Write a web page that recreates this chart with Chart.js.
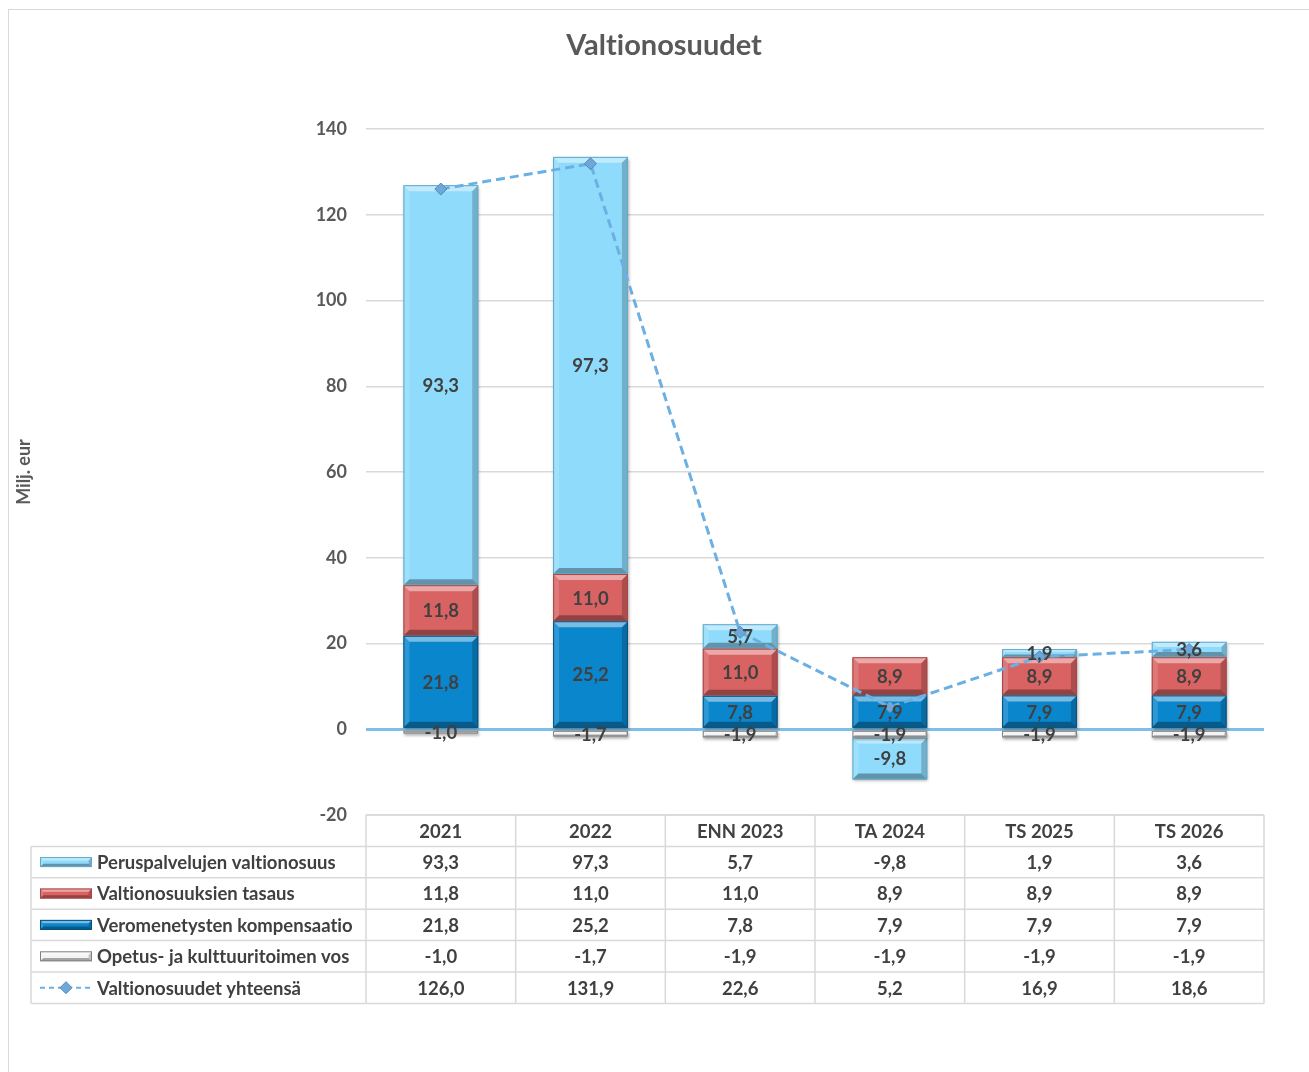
<!DOCTYPE html>
<html>
<head>
<meta charset="utf-8">
<script src="https://cdn.jsdelivr.net/npm/chart.js@4.4.1/dist/chart.umd.min.js"></script>
<style>
  html, body { margin: 0; padding: 0; background: #fff; overflow: hidden; }
  #frame { position: absolute; left: 8px; top: 9px; width: 1400px; height: 1200px; border: 1px solid #d9d9d9; }
  #wrap { position: absolute; left: 0; top: 0; width: 1309px; height: 1072px; }
</style>
</head>
<body>
<div id="frame"></div>
<div id="wrap"><canvas id="chart"></canvas></div>
<script>
// data
const categories = ['2021', '2022', 'ENN 2023', 'TA 2024', 'TS 2025', 'TS 2026'];
const peruspalvelut = [93.3, 97.3, 5.7, -9.8, 1.9, 3.6];
const tasaus = [11.8, 11.0, 11.0, 8.9, 8.9, 8.9];
const kompensaatio = [21.8, 25.2, 7.8, 7.9, 7.9, 7.9];
const opetus = [-1.0, -1.7, -1.9, -1.9, -1.9, -1.9];
const yhteensa = [126.0, 131.9, 22.6, 5.2, 16.9, 18.6];
const yTicks = [-20, 0, 20, 40, 60, 80, 100, 120, 140];
const chartTitle = 'Valtionosuudet';

const FONT = 'Lato, "Open Sans", sans-serif';
const TEXT = '#404040';
const LABEL_SIZE = 18.5;
const fmt = v => v.toFixed(1).replace('.', ',');

const styles = {
  perus: { fill: '#8fdbfb', edge: '#5fa9cc' },
  tasaus: { fill: '#d96262', edge: '#a94444' },
  komp: { fill: '#0a86cd', edge: '#06507e' },
  opetus: { fill: '#f4f4f4', edge: '#808080' },
  line: '#6cb0e3'
};

function poly(ctx, pts) {
  ctx.beginPath();
  ctx.moveTo(pts[0][0], pts[0][1]);
  for (let i = 1; i < pts.length; i++) ctx.lineTo(pts[i][0], pts[i][1]);
  ctx.closePath();
  ctx.fill();
}

// bevel shading on top of a plain rectangle
function bevel(ctx, l, t, r, b, edge) {
  const e = Math.min(6, (b - t) / 3, (r - l) / 3);
  ctx.save();
  ctx.fillStyle = 'rgba(255,255,255,0.45)';
  poly(ctx, [[l, t], [r, t], [r - e, t + e], [l + e, t + e]]);
  ctx.fillStyle = 'rgba(255,255,255,0.15)';
  poly(ctx, [[l, t], [l + e, t + e], [l + e, b - e], [l, b]]);
  ctx.fillStyle = 'rgba(0,0,0,0.2)';
  poly(ctx, [[r, t], [r, b], [r - e, b - e], [r - e, t + e]]);
  ctx.fillStyle = 'rgba(0,0,0,0.32)';
  poly(ctx, [[l, b], [r, b], [r - e, b - e], [l + e, b - e]]);
  ctx.strokeStyle = edge;
  ctx.lineWidth = 1;
  ctx.strokeRect(l + 0.5, t + 0.5, r - l - 1, b - t - 1);
  ctx.restore();
}

// no "ti"/"tt" ligatures, like the original
function plainText(ctx) {
  if ('textRendering' in ctx) ctx.textRendering = 'optimizeSpeed';
}

const titleText = {
  id: 'titleText',
  afterDraw(chart) {
    const ctx = chart.ctx;
    ctx.save();
    plainText(ctx);
    ctx.font = 'bold 29px ' + FONT;
    ctx.fillStyle = '#595959';
    ctx.textAlign = 'center';
    ctx.textBaseline = 'middle';
    ctx.fillText(chartTitle, 664, 46);
    ctx.restore();
  }
};

const barLook = {
  id: 'barLook',
  beforeDatasetDraw(chart, args) {
    if (args.meta.type !== 'bar') return;
    const ctx = chart.ctx;
    ctx.save();
    ctx.shadowColor = 'rgba(0,0,0,0.35)';
    ctx.shadowBlur = 3;
    ctx.shadowOffsetX = 1;
    ctx.shadowOffsetY = 2;
  },
  afterDatasetDraw(chart, args) {
    if (args.meta.type !== 'bar') return;
    const ctx = chart.ctx;
    ctx.restore();
    const edge = chart.data.datasets[args.index].borderColor;
    args.meta.data.forEach(bar => {
      const p = bar.getProps(['x', 'y', 'base', 'width'], true);
      bevel(ctx, p.x - p.width / 2, Math.min(p.y, p.base), p.x + p.width / 2, Math.max(p.y, p.base), edge);
    });
  },
  afterDatasetsDraw(chart) {
    const ctx = chart.ctx;
    ctx.save();
    ctx.font = 'bold ' + LABEL_SIZE + 'px ' + FONT;
    ctx.fillStyle = TEXT;
    ctx.textAlign = 'center';
    ctx.textBaseline = 'middle';
    chart.data.datasets.forEach((ds, i) => {
      if (ds.type === 'line') return;
      chart.getDatasetMeta(i).data.forEach((bar, j) => {
        const p = bar.getProps(['x', 'y', 'base'], true);
        ctx.fillText(fmt(ds.data[j]), p.x, (p.y + p.base) / 2 + 1);
      });
    });
    ctx.restore();
  }
};

const dataTable = {
  id: 'dataTable',
  afterDraw(chart) {
    const { ctx, chartArea } = chart;
    const xs = chart.scales.x;
    const step = (chartArea.right - chartArea.left) / categories.length;
    const top = chartArea.bottom;
    const rowH = 31.4;
    const labelLeft = 31;
    const rows = [
      { name: 'Peruspalvelujen valtionosuus', values: peruspalvelut, st: styles.perus },
      { name: 'Valtionosuuksien tasaus', values: tasaus, st: styles.tasaus },
      { name: 'Veromenetysten kompensaatio', values: kompensaatio, st: styles.komp },
      { name: 'Opetus- ja kulttuuritoimen vos', values: opetus, st: styles.opetus },
      { name: 'Valtionosuudet yhteensä', values: yhteensa, line: true }
    ];
    const bottom = top + rowH * (rows.length + 1);

    ctx.save();
    plainText(ctx);
    ctx.strokeStyle = '#d9d9d9';
    ctx.lineWidth = 1.5;
    ctx.beginPath();
    ctx.moveTo(chartArea.left, top);
    ctx.lineTo(chartArea.right, top);
    for (let i = 1; i <= rows.length + 1; i++) {
      ctx.moveTo(labelLeft, top + rowH * i);
      ctx.lineTo(chartArea.right, top + rowH * i);
    }
    ctx.moveTo(labelLeft, top + rowH);
    ctx.lineTo(labelLeft, bottom);
    for (let k = 0; k <= categories.length; k++) {
      const x = chartArea.left + step * k;
      ctx.moveTo(x, top);
      ctx.lineTo(x, bottom);
    }
    ctx.stroke();

    ctx.font = 'bold ' + LABEL_SIZE + 'px ' + FONT;
    ctx.fillStyle = TEXT;
    ctx.textAlign = 'center';
    ctx.textBaseline = 'middle';
    categories.forEach((c, j) => ctx.fillText(c, xs.getPixelForValue(j), top + rowH / 2 + 1));

    rows.forEach((row, i) => {
      const cy = top + rowH * (i + 1) + rowH / 2;
      row.values.forEach((v, j) => {
        ctx.fillStyle = TEXT;
        ctx.textAlign = 'center';
        ctx.fillText(fmt(v), xs.getPixelForValue(j), cy + 1);
      });
      if (row.line) {
        ctx.save();
        ctx.strokeStyle = styles.line;
        ctx.lineWidth = 2;
        ctx.setLineDash([5, 4]);
        ctx.beginPath();
        ctx.moveTo(40, cy);
        ctx.lineTo(92, cy);
        ctx.stroke();
        ctx.setLineDash([]);
        ctx.fillStyle = '#6fa8d8';
        ctx.strokeStyle = '#4f88bb';
        ctx.lineWidth = 1;
        ctx.beginPath();
        ctx.moveTo(66, cy - 6);
        ctx.lineTo(72, cy);
        ctx.lineTo(66, cy + 6);
        ctx.lineTo(60, cy);
        ctx.closePath();
        ctx.fill();
        ctx.stroke();
        ctx.restore();
      } else {
        ctx.fillStyle = row.st.fill;
        ctx.fillRect(40, cy - 5, 52, 10);
        bevel(ctx, 40, cy - 5, 92, cy + 5, row.st.edge);
      }
      ctx.fillStyle = TEXT;
      ctx.textAlign = 'left';
      ctx.fillText(row.name, 97, cy + 1);
    });
    ctx.restore();
  }
};

function barSet(label, data, st) {
  return {
    type: 'bar', label, data,
    backgroundColor: st.fill, borderColor: st.edge, borderWidth: 0,
    barPercentage: 0.5, categoryPercentage: 1, order: 1
  };
}

new Chart(document.getElementById('chart').getContext('2d'), {
  data: {
    labels: categories,
    datasets: [
      barSet('Veromenetysten kompensaatio', kompensaatio, styles.komp),
      barSet('Valtionosuuksien tasaus', tasaus, styles.tasaus),
      barSet('Opetus- ja kulttuuritoimen vos', opetus, styles.opetus),
      barSet('Peruspalvelujen valtionosuus', peruspalvelut, styles.perus),
      {
        type: 'line', label: 'Valtionosuudet yhteensä', data: yhteensa, stack: 'total', order: 0,
        borderColor: styles.line, borderWidth: 3, borderDash: [9, 5], fill: false, tension: 0,
        pointStyle: 'rectRot', pointRadius: 6, pointBackgroundColor: '#6fa8d8', pointBorderColor: '#4f88bb',
        pointBorderWidth: 1
      }
    ]
  },
  options: {
    responsive: true,
    maintainAspectRatio: false,
    animation: false,
    layout: { padding: { left: 0, right: 45, top: 129, bottom: 257 } },
    plugins: {
      legend: { display: false },
      tooltip: { enabled: false },
      title: { display: false }
    },
    scales: {
      x: { display: false, stacked: true },
      y: {
        stacked: true, min: -20, max: 140,
        afterFit: s => { s.width = 366; },
        afterBuildTicks: s => { s.ticks = yTicks.map(v => ({ value: v })); },
        border: { display: false },
        grid: {
          drawTicks: false,
          color: c => c.tick.value === 0 ? '#7ebfea' : '#d9d9d9',
          lineWidth: c => c.tick.value === 0 ? 3 : 1.5
        },
        ticks: { padding: 19, color: '#595959', font: { family: FONT, size: 18, weight: 'bold' } },
        title: {
          display: true, text: 'Milj. eur', color: '#595959',
          font: { family: FONT, size: 18, weight: 'bold' },
          padding: { top: 13, bottom: 0 }
        }
      }
    }
  },
  plugins: [barLook, dataTable, titleText]
});
</script>
</body>
</html>
